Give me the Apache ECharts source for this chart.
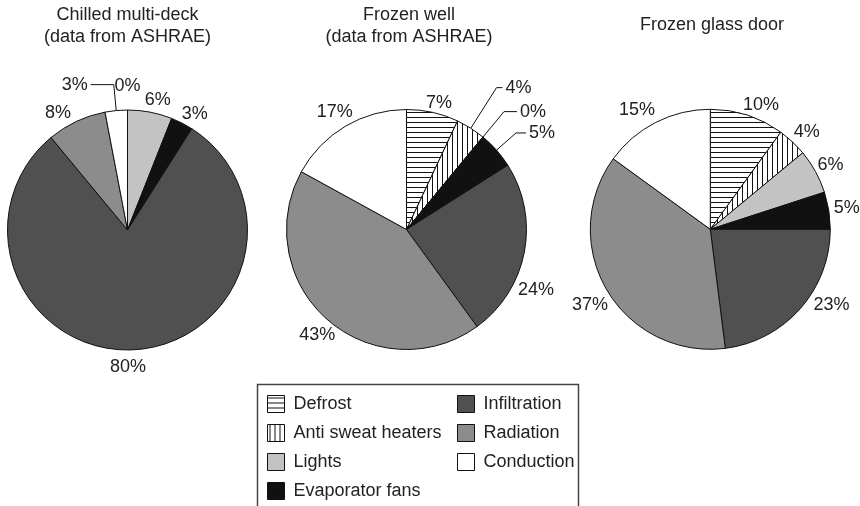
<!DOCTYPE html>
<html>
<head>
<meta charset="utf-8">
<script src="https://cdn.jsdelivr.net/npm/echarts@6/dist/echarts.min.js"></script>
<style>
  html, body { margin: 0; padding: 0; background: #fff; }
  #chart { width: 860px; height: 506px; }
</style>
</head>
<body>
<div id="chart"></div>
<script>
// ---- data ----
const categories = ['Defrost', 'Anti sweat heaters', 'Lights', 'Evaporator fans', 'Infiltration', 'Radiation', 'Conduction'];
const chilledValues = [0, 0, 6, 3, 80, 8, 3];
const frozenWellValues = [7, 4, 0, 5, 24, 43, 17];
const frozenGlassValues = [10, 4, 6, 5, 23, 37, 15];
const pieTitles = ['Chilled multi-deck\n(data from ASHRAE)', 'Frozen well\n(data from ASHRAE)', 'Frozen glass door'];
const legendLeftItems = ['Defrost', 'Anti sweat heaters', 'Lights', 'Evaporator fans'];
const legendRightItems = ['Infiltration', 'Radiation', 'Conduction'];

// ---- styles ----
const FONT = '"Liberation Sans", Arial, Helvetica, sans-serif';
const TEXT = '#222';
function makePattern(dir) {
  const c = document.createElement('canvas');
  c.width = 5; c.height = 5;
  const g = c.getContext('2d');
  g.fillStyle = '#fff'; g.fillRect(0, 0, 5, 5);
  g.fillStyle = '#111';
  if (dir === 'h') g.fillRect(0, 2, 5, 1); else g.fillRect(2, 0, 1, 5);
  return { image: c, repeat: 'repeat' };
}
const fills = [makePattern('h'), makePattern('v'), '#c3c3c3', '#111111', '#505050', '#8c8c8c', '#ffffff'];

// label placement style per pie: nudges (dx,dy) for centred labels, leader lines for others
const pieLayouts = [
  { center: [127.5, 230], hidden: [1],
    nudge: [[0, -9], [0, 0], [5, 3], [6, 4], [-8, 2], [-12, 5], [0, 0]],
    leader: { 6: [26, 23] } },
  { center: [406.5, 229.5], hidden: [],
    nudge: [[3, 5], [0, 0], [0, 0], [0, 0], [-3, 35], [0, 4], [-3, -1]],
    leader: { 1: [48, 6], 2: [33, 13], 3: [26, 10] } },
  { center: [710.3, 229.3], hidden: [],
    nudge: [[9, 4], [4, 1], [2, 1], [3, 0], [20, -14], [-4, 7], [-12, 1]],
    leader: {} }
];
const allValues = [chilledValues, frozenWellValues, frozenGlassValues];

const series = allValues.map((vals, s) => {
  const L = pieLayouts[s];
  return {
    type: 'pie',
    center: L.center,
    radius: 120,
    startAngle: 90,
    clockwise: true,
    avoidLabelOverlap: false,
    silent: true,
    animation: false,
    itemStyle: { borderColor: '#111', borderWidth: 1 },
    label: { show: true, position: 'outside', formatter: '{c}%', fontFamily: FONT, fontSize: 18, color: TEXT },
    labelLayout: function (p) {
      if (L.leader[p.dataIndex]) return {};
      const n = L.nudge[p.dataIndex];
      return { align: 'center', verticalAlign: 'middle', dx: n[0], dy: n[1] };
    },
    data: vals.map((v, i) => {
      const ld = L.leader[i];
      const item = { name: categories[i], value: v, itemStyle: { color: fills[i] } };
      if (ld) {
        item.labelLine = { show: true, length: ld[0], length2: ld[1], smooth: false, lineStyle: { color: '#111', width: 1 } };
        item.label = { distanceToLabelLine: 3 };
      } else {
        item.labelLine = { show: false, length: 15, length2: 0 };
        item.label = { distanceToLabelLine: 0 };
      }
      if (L.hidden.indexOf(i) >= 0) item.label = { show: false };
      return item;
    })
  };
});

const titleCenters = [127.5, 409, 712];
const titleTops = [4, 4, 14];

const legendCommon = {
  orient: 'vertical',
  top: 395,
  itemWidth: 17,
  itemHeight: 17,
  itemGap: 11,
  icon: 'rect',
  selectedMode: false,
  padding: 0,
  textStyle: { fontFamily: FONT, fontSize: 18, color: TEXT, lineHeight: 17, padding: [0, 0, 0, 4] },
  itemStyle: { borderColor: '#111', borderWidth: 1 }
};

const option = {
  backgroundColor: '#fff',
  animation: false,
  title: pieTitles.map((t, i) => ({
    text: t,
    left: titleCenters[i],
    top: titleTops[i],
    textAlign: 'center',
    padding: 0,
    textStyle: { fontFamily: FONT, fontSize: 18, fontWeight: 'normal', color: TEXT, lineHeight: 22 }
  })),
  legend: [
    Object.assign({}, legendCommon, { left: 267, data: legendLeftItems }),
    Object.assign({}, legendCommon, { left: 457, data: legendRightItems })
  ],
  graphic: [{
    type: 'rect',
    silent: true,
    shape: { x: 257.5, y: 384.5, width: 321, height: 130 },
    style: { fill: 'none', stroke: '#444', lineWidth: 1.5 }
  }],
  series: series
};

const chart = echarts.init(document.getElementById('chart'), null, { renderer: 'canvas' });
chart.setOption(option);
</script>
</body>
</html>
